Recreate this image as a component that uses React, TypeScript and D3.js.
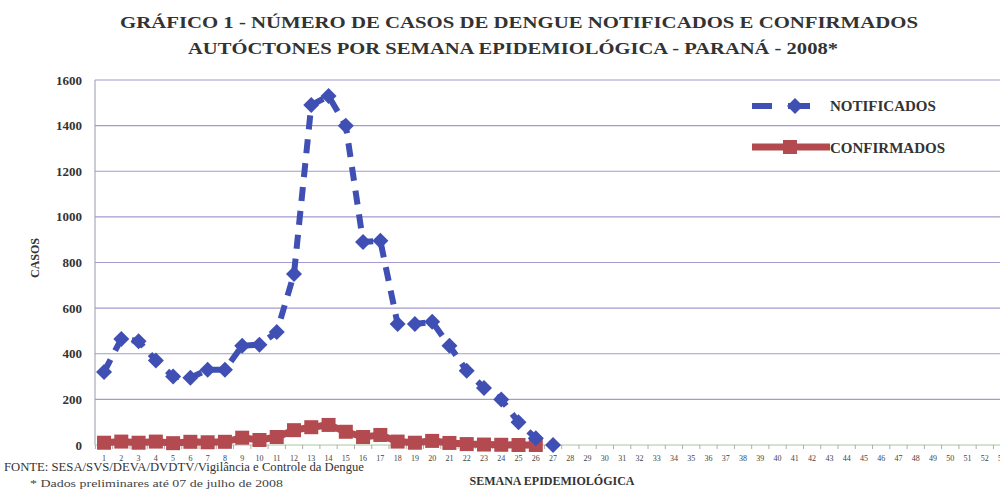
import React, { useMemo } from 'react';
import * as d3 from 'd3';

const weeks = d3.range(1, 54).map(String);
const notificados = [320, 465, 455, 370, 300, 295, 330, 330, 435, 440, 495, 750, 1490, 1530, 1400, 890, 895, 530, 530, 540, 435, 325, 250, 200, 100, 30, 0];
const confirmados = [10, 15, 10, 15, 8, 14, 12, 14, 32, 22, 35, 65, 78, 88, 58, 35, 44, 15, 10, 18, 9, 4, 2, 1, 0, 0];
const yTicks = [0, 200, 400, 600, 800, 1000, 1200, 1400, 1600];

const W = 1000;
const H = 489;
const serif = '"Liberation Serif", "DejaVu Serif", serif';
const BLUE = '#3f4fb4';
const RED = '#b34a4f';

const App: React.FC = () => {
  const x = useMemo(() => d3.scaleBand<string>().domain(weeks).range([95.4, 95.4 + 53 * 17.27]), []);
  const y = useMemo(() => d3.scaleLinear().domain([0, 1600]).range([445, 80]), []);
  const cx = (i: number) => (x(weeks[i]) ?? 0) + x.bandwidth() / 2;

  const line = d3.line<number>().x((_, i) => cx(i)).y(d => y(d));

  return (
    <svg width={W} height={H} style={{ position: 'absolute', left: 0, top: 0, background: '#fff' }}>
      {/* title */}
      <g fontFamily={serif} fontWeight="bold" fill="#333" textAnchor="middle" fontSize={17}>
        <text x={519} y={28} textLength={798} lengthAdjust="spacingAndGlyphs">
          GRÁFICO 1 - NÚMERO DE CASOS DE DENGUE NOTIFICADOS E CONFIRMADOS
        </text>
        <text x={513} y={54} textLength={650} lengthAdjust="spacingAndGlyphs">
          AUTÓCTONES POR SEMANA EPIDEMIOLÓGICA - PARANÁ - 2008*
        </text>
      </g>

      {/* grid */}
      {yTicks.filter(t => t > 0).map(t => (
        <line key={t} x1={95} x2={W} y1={y(t)} y2={y(t)} stroke="#a49ad0" strokeWidth={1.2} />
      ))}
      <line x1={95} x2={95} y1={80} y2={445} stroke="#9a9ab0" strokeWidth={1} />
      <line x1={95} x2={W} y1={445} y2={445} stroke="#a8c8a0" strokeWidth={1} />
      {weeks.map(w => (
        <line key={w} x1={x(w) ?? 0} x2={x(w) ?? 0} y1={445} y2={449} stroke="#999" strokeWidth={0.8} />
      ))}

      {/* y labels */}
      <g fontFamily={serif} fontWeight="bold" fontSize={13} fill="#333" textAnchor="end">
        {yTicks.map(t => (
          <text key={t} x={82} y={y(t) + 4.5}>{t}</text>
        ))}
      </g>
      <text transform="translate(39,258) rotate(-90)" textAnchor="middle" fontFamily={serif}
        fontWeight="bold" fontSize={12} fill="#333">CASOS</text>

      {/* x labels */}
      <g fontFamily={serif} fontSize={8} fill="#444" textAnchor="middle">
        {weeks.map((w, i) => (
          <text key={w} x={cx(i)} y={461}>{w}</text>
        ))}
      </g>
      <text x={552} y={485} textAnchor="middle" fontFamily={serif} fontWeight="bold" fontSize={12} fill="#333">
        SEMANA EPIDEMIOLÓGICA
      </text>

      {/* footer */}
      <text x={4} y={471} fontFamily={serif} fontSize={11.5} fill="#333" textLength={360} lengthAdjust="spacingAndGlyphs">
        FONTE: SESA/SVS/DEVA/DVDTV/Vigilância e Controle da Dengue
      </text>
      <text x={30} y={487} fontFamily={serif} fontSize={9.5} fill="#444" textLength={253} lengthAdjust="spacingAndGlyphs">
        * Dados preliminares até 07 de julho de 2008
      </text>

      {/* confirmados */}
      <path d={line(confirmados) ?? ''} fill="none" stroke={RED} strokeWidth={7} />
      {confirmados.map((v, i) => (
        <rect key={i} x={cx(i) - 7} y={y(v) - 7} width={14} height={14} fill={RED} />
      ))}

      {/* notificados */}
      <path d={line(notificados) ?? ''} fill="none" stroke={BLUE} strokeWidth={6} strokeDasharray="14 10" />
      {notificados.map((v, i) => (
        <path key={i} d="M0,-8L8,0L0,8L-8,0Z" transform={`translate(${cx(i)},${y(v)})`} fill={BLUE} />
      ))}

      {/* legend */}
      <g>
        <line x1={752} x2={772} y1={106} y2={106} stroke={BLUE} strokeWidth={6} />
        <line x1={788} x2={810} y1={106} y2={106} stroke={BLUE} strokeWidth={6} />
        <path d="M0,-8L8,0L0,8L-8,0Z" transform="translate(795,106)" fill={BLUE} />
        <text x={830} y={111} fontFamily={serif} fontWeight="bold" fontSize={15} fill="#333">NOTIFICADOS</text>
        <line x1={752} x2={830} y1={147} y2={147} stroke={RED} strokeWidth={7} />
        <rect x={783} y={140} width={14} height={14} fill={RED} />
        <text x={830} y={153} fontFamily={serif} fontWeight="bold" fontSize={15} fill="#333">CONFIRMADOS</text>
      </g>
    </svg>
  );
};

export default App;
